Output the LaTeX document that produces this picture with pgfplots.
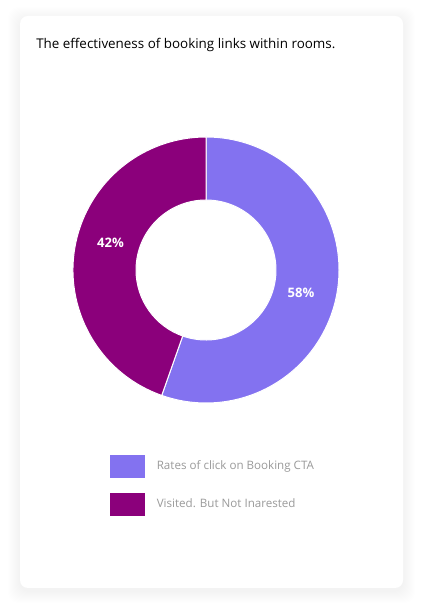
\documentclass[border=0pt]{standalone}
\usepackage{pgfplots}
\pgfplotsset{compat=1.18}
\usepackage{pgfplotstable}
\usepackage{fontspec}
\setmainfont{Open Sans}
\definecolor{cA}{HTML}{8372F0}
\definecolor{cB}{HTML}{8B007B}
\definecolor{legtext}{HTML}{9A9A9A}
\pgfplotstableread{
value shown
55.4 58
44.6 42
}\donut
\begin{document}
\begin{tikzpicture}
\pgfplotstablegetelem{0}{value}\of\donut \let\va\pgfplotsretval
\pgfplotstablegetelem{1}{value}\of\donut \let\vb\pgfplotsretval
\pgfplotstablegetelem{0}{shown}\of\donut \let\sa\pgfplotsretval
\pgfplotstablegetelem{1}{shown}\of\donut \let\sb\pgfplotsretval
\pgfmathsetmacro\endA{90-3.6*\va}
\pgfmathsetmacro\endB{\endA-3.6*\vb}
\begin{axis}[width=318pt,height=459.75pt,scale only axis,
  xmin=0,xmax=424,ymin=0,ymax=613,hide axis,clip=false,
  legend style={at={(axis cs:110,158)},anchor=north west,draw=none,fill=none,
    inner sep=0pt,font=\fontsize{8.7}{11}\selectfont,text=legtext,
    nodes={inner sep=0pt},column sep=9pt,row sep=11.25pt},
  legend cell align=left,
  legend image code/.code={\fill[#1] (0pt,-8.25pt) rectangle (25.5pt,8.25pt);}]
\path (axis cs:0,0) rectangle (axis cs:424,613);
% card shadow
\pgfplotsinvokeforeach{1,...,12}{
  \fill[black,opacity=0.005,rounded corners=8pt]
    (axis cs:20-#1,22-#1) rectangle (axis cs:403+#1,594+#1);
}
\fill[white,rounded corners=6pt] (axis cs:20,25) rectangle (axis cs:403,597);
\node[anchor=base west,inner sep=0pt,font=\fontsize{10.05}{12}\selectfont] at (axis cs:36,564) {The effectiveness of booking links within rooms.};
\coordinate (c) at (axis cs:206,343);
\fill[cA,draw=white,line width=0.75pt] ([shift={(90:99.75pt)}]c) arc[start angle=90,end angle=\endA,radius=99.75pt]
  -- ([shift={(\endA:52.5pt)}]c) arc[start angle=\endA,end angle=90,radius=52.5pt] -- cycle;
\fill[cB,draw=white,line width=0.75pt] ([shift={(\endA:99.75pt)}]c) arc[start angle=\endA,end angle=\endB,radius=99.75pt]
  -- ([shift={(\endB:52.5pt)}]c) arc[start angle=\endB,end angle=\endA,radius=52.5pt] -- cycle;
\node[white,font=\bfseries\fontsize{9.8}{12}\selectfont] at (axis cs:301,320) {\sa\%};
\node[white,font=\bfseries\fontsize{9.8}{12}\selectfont] at (axis cs:110.5,370) {\sb\%};
\addlegendimage{cA}
\addlegendentry{Rates of click on Booking CTA}
\addlegendimage{cB}
\addlegendentry{Visited. But Not Inarested}
\end{axis}
\end{tikzpicture}
\end{document}
